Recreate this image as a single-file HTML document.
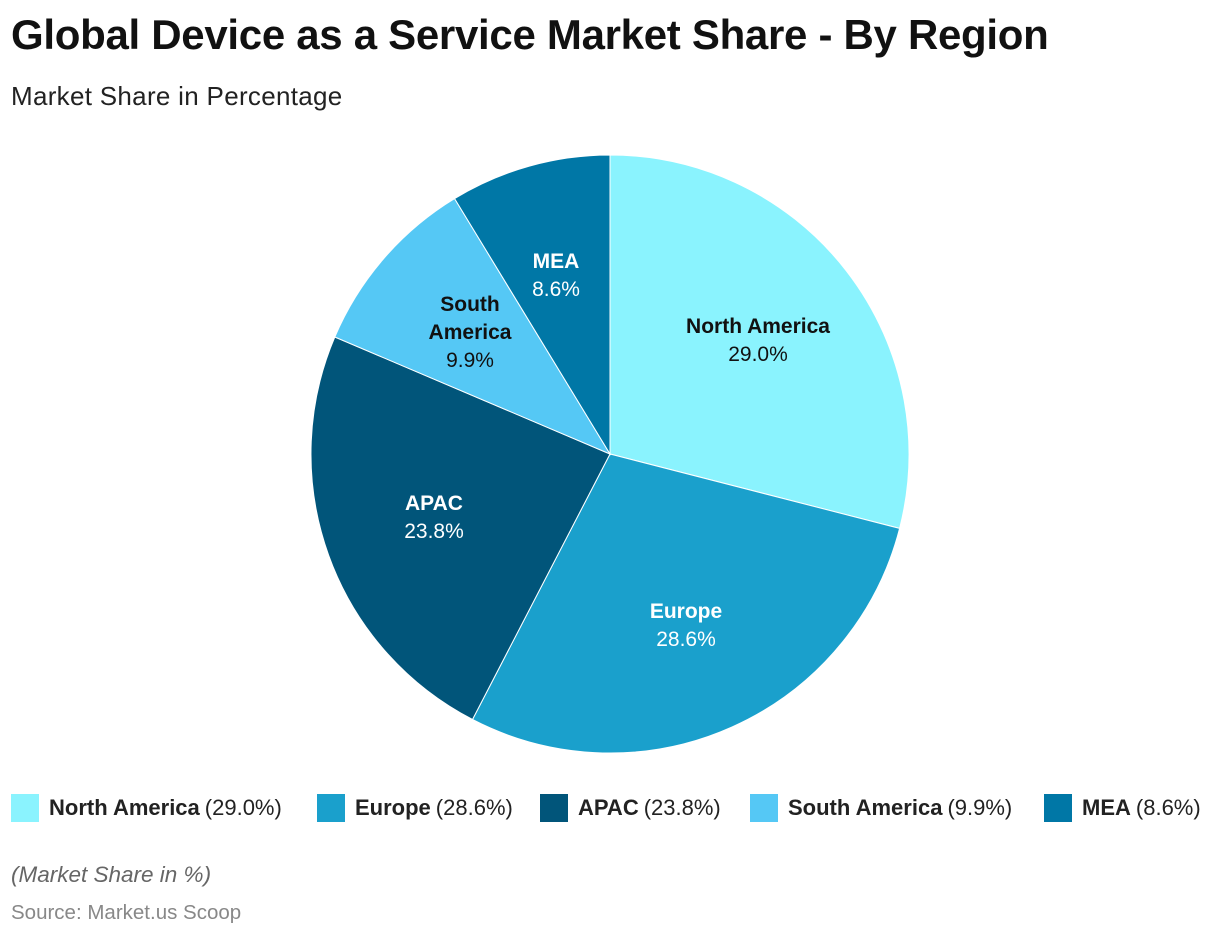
<!DOCTYPE html>
<html><head><style>
body{margin:0;width:1220px;height:936px;background:#fff;font-family:"Liberation Sans",sans-serif;position:relative;overflow:hidden}
.t{position:absolute;left:11px;top:11px;font-size:42px;font-weight:bold;color:#111;letter-spacing:-0.3px}
.s{position:absolute;left:11px;top:81px;font-size:26px;color:#222;letter-spacing:0.3px}
.lg{position:absolute;top:794px;font-size:22px;color:#222;display:flex;align-items:center;white-space:nowrap}
.lg i{display:inline-block;width:28px;height:28px;margin-right:10px}
.lg b{margin-right:5px}
.n{position:absolute;left:11px;top:862px;font-size:22.5px;font-style:italic;color:#666}
.src{position:absolute;left:11px;top:901px;font-size:20.5px;color:#888}
</style></head><body>
<div class="t">Global Device as a Service Market Share - By Region</div>
<div class="s">Market Share in Percentage</div>
<svg width="1220" height="936" style="position:absolute;left:0;top:0" font-family="Liberation Sans, sans-serif" font-size="21" text-anchor="middle">
<g stroke="#fff" stroke-width="1">
<path d="M610,454 L610,155 A299,299 0 0 1 899.6,528.4 Z" fill="#8af3fe"/>
<path d="M610,454 L899.6,528.4 A299,299 0 0 1 472.5,719.5 Z" fill="#1aa0cc"/>
<path d="M610,454 L472.5,719.5 A299,299 0 0 1 334.8,337 Z" fill="#01557a"/>
<path d="M610,454 L334.8,337 A299,299 0 0 1 454.6,198.6 Z" fill="#55c8f5"/>
<path d="M610,454 L454.6,198.6 A299,299 0 0 1 610,155 Z" fill="#0077a6"/>
</g>
<g fill="#111"><text x="758" y="333" font-weight="bold">North America</text><text x="758" y="361">29.0%</text></g>
<g fill="#fff"><text x="686" y="618" font-weight="bold">Europe</text><text x="686" y="646">28.6%</text></g>
<g fill="#fff"><text x="434" y="510" font-weight="bold">APAC</text><text x="434" y="538">23.8%</text></g>
<g fill="#111"><text x="470" y="311" font-weight="bold">South</text><text x="470" y="339" font-weight="bold">America</text><text x="470" y="367">9.9%</text></g>
<g fill="#fff"><text x="556" y="268" font-weight="bold">MEA</text><text x="556" y="296">8.6%</text></g>
</svg>
<div class="lg" style="left:11px"><i style="background:#8af3fe"></i><b>North America</b>(29.0%)</div>
<div class="lg" style="left:317px"><i style="background:#1aa0cc"></i><b>Europe</b>(28.6%)</div>
<div class="lg" style="left:540px"><i style="background:#01557a"></i><b>APAC</b>(23.8%)</div>
<div class="lg" style="left:750px"><i style="background:#55c8f5"></i><b>South America</b>(9.9%)</div>
<div class="lg" style="left:1044px"><i style="background:#0077a6"></i><b>MEA</b>(8.6%)</div>
<div class="n">(Market Share in %)</div>
<div class="src">Source: Market.us Scoop</div>
</body></html>
